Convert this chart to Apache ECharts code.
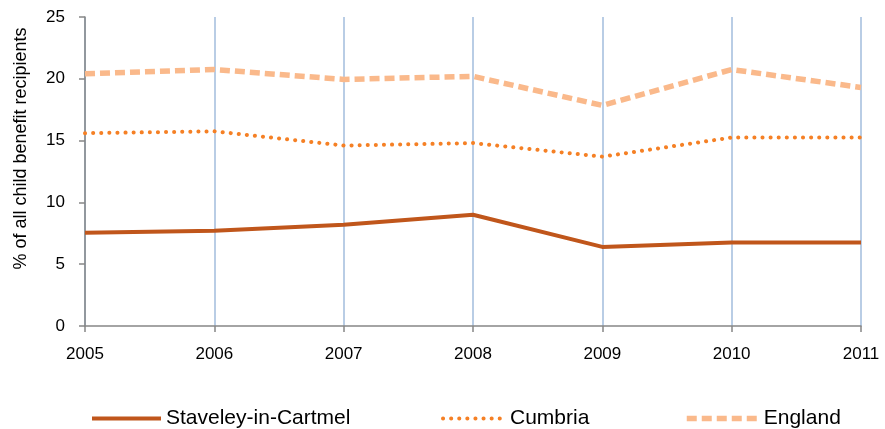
<!DOCTYPE html>
<html>
<head>
<meta charset="utf-8">
<script src="https://cdn.jsdelivr.net/npm/echarts@6/dist/echarts.min.js"></script>
<style>
html,body{margin:0;padding:0;background:#fff;}
#chart{width:885px;height:429px;}
</style>
</head>
<body>
<div id="chart"></div>
<script>
var years = ['2005','2006','2007','2008','2009','2010','2011'];
var staveley = [7.55, 7.7, 8.2, 9.0, 6.4, 6.75, 6.75];
var cumbria = [15.6, 15.75, 14.6, 14.8, 13.7, 15.25, 15.25];
var england = [20.4, 20.75, 19.95, 20.2, 17.85, 20.75, 19.3];
var yTicks = {min: 0, max: 25, interval: 5};
var yTitle = '% of all child benefit recipients';

var FONT = '"Liberation Sans", Arial, sans-serif';
var legendText = {fontFamily: FONT, fontSize: 21, color: '#000'};
var noSymbol = {opacity: 0};
var chart = echarts.init(document.getElementById('chart'), null, {renderer: 'canvas'});
chart.setOption({
  animation: false,
  backgroundColor: '#ffffff',
  grid: {left: 85, right: 24, top: 17, bottom: 103},
  legend: [
    {data: ['Staveley-in-Cartmel'], left: 85, top: 403, itemWidth: 69, itemHeight: 14,
     itemStyle: noSymbol, lineStyle: {width: 4}, textStyle: legendText},
    {data: ['Cumbria'], left: 436, top: 403, itemWidth: 62, itemHeight: 14,
     itemStyle: noSymbol, lineStyle: {width: 4}, textStyle: legendText},
    {data: ['England'], left: 679, top: 403, itemWidth: 72, itemHeight: 14,
     itemStyle: noSymbol, lineStyle: {width: 5.5}, textStyle: legendText}
  ],
  xAxis: {
    type: 'category',
    data: years,
    boundaryGap: false,
    axisLine: {lineStyle: {color: '#868686', width: 1.5}},
    axisTick: {show: true, length: 6, inside: false, lineStyle: {color: '#868686', width: 1.5}},
    axisLabel: {fontFamily: FONT, fontSize: 17, color: '#000', margin: 20},
    splitLine: {show: true, lineStyle: {color: '#B9CDE5', width: 2}}
  },
  yAxis: {
    type: 'value',
    min: yTicks.min, max: yTicks.max, interval: yTicks.interval,
    name: yTitle,
    nameLocation: 'middle',
    nameGap: 55,
    nameTextStyle: {fontFamily: FONT, fontSize: 18, color: '#000', padding: [0, 0, 0, 46]},
    axisLine: {show: true, lineStyle: {color: '#868686', width: 1.5}},
    axisTick: {show: true, length: 6, lineStyle: {color: '#868686', width: 1.5}},
    axisLabel: {fontFamily: FONT, fontSize: 17, color: '#000', margin: 20},
    splitLine: {show: false}
  },
  series: [
    {name: 'Staveley-in-Cartmel', type: 'line', data: staveley, symbol: 'none',
     itemStyle: {color: '#C0561B'},
     lineStyle: {color: '#C0561B', width: 4}},
    {name: 'Cumbria', type: 'line', data: cumbria, symbol: 'none',
     itemStyle: {color: '#F58025'},
     lineStyle: {color: '#F58025', width: 4, type: [0.1, 8], cap: 'round'}},
    {name: 'England', type: 'line', data: england, symbol: 'none',
     itemStyle: {color: '#FAB98B'},
     lineStyle: {color: '#FAB98B', width: 5.5, type: [10, 5]}}
  ]
});
</script>
</body>
</html>
